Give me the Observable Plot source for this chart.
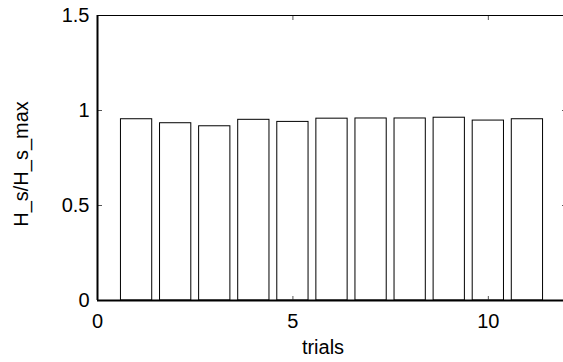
<!DOCTYPE html>
<html>
<head>
<meta charset="utf-8">
<script src="https://cdn.jsdelivr.net/npm/d3@7"></script>
<script src="https://cdn.jsdelivr.net/npm/@observablehq/plot@0.6"></script>
<style>
  html, body { margin: 0; padding: 0; background: #fff; }
  #chart svg { display: block; }
</style>
</head>
<body>
<div id="chart"></div>
<script>
const trials = [1, 2, 3, 4, 5, 6, 7, 8, 9, 10, 11];
const ratio = [0.954, 0.933, 0.917, 0.951, 0.940, 0.957, 0.958, 0.958, 0.962, 0.947, 0.954];
const xTicks = [0, 5, 10];
const yTicks = [0, 0.5, 1, 1.5];
const xLabel = "trials";
const yLabel = "H_s/H_s_max";
const barWidth = 0.8;

const table = trials.map((t, i) => ({x1: t - barWidth / 2, x2: t + barWidth / 2, y: ratio[i]}));

const chart = Plot.plot({
  width: 563,
  height: 362,
  marginLeft: 97,
  marginRight: -3,
  marginTop: 15,
  marginBottom: 62,
  style: {fontFamily: "'Liberation Sans', Arial, sans-serif", fontSize: "20px", color: "#000", background: "#fff"},
  x: {domain: [0, 12]},
  y: {domain: [0, 1.5]},
  marks: [
    Plot.rectY(table, {x1: "x1", x2: "x2", y: "y", fill: "white", stroke: "black", strokeWidth: 1}),
    Plot.axisY(yTicks, {anchor: "left", tickSize: -5, tickPadding: 13, label: null, tickFormat: d => String(d), fontSize: 20, stroke: "#555"}),
    Plot.axisY(yTicks, {anchor: "right", tickSize: -5, text: null, label: null, stroke: "#555"}),
    Plot.axisX(xTicks, {anchor: "bottom", tickSize: -4, tickPadding: 17, label: null, tickFormat: d => String(d), fontSize: 20, stroke: "#555"}),
    Plot.axisX(xTicks, {anchor: "top", tickSize: -4, text: null, label: null, stroke: "#555"}),
    Plot.frame({stroke: "black", strokeWidth: 1}),
    Plot.ruleX([0], {stroke: "black", strokeWidth: 2}),
    Plot.ruleY([0], {stroke: "black", strokeWidth: 2}),
    Plot.text([xLabel], {text: d => d, frameAnchor: "bottom", lineAnchor: "bottom", dy: 53, dx: -9, fontSize: 20}),
    Plot.text([yLabel], {text: d => d, frameAnchor: "left", textAnchor: "middle", rotate: -90, dx: -76, dy: 6, fontSize: 20})
  ]
});
document.getElementById("chart").appendChild(chart);
</script>
</body>
</html>
